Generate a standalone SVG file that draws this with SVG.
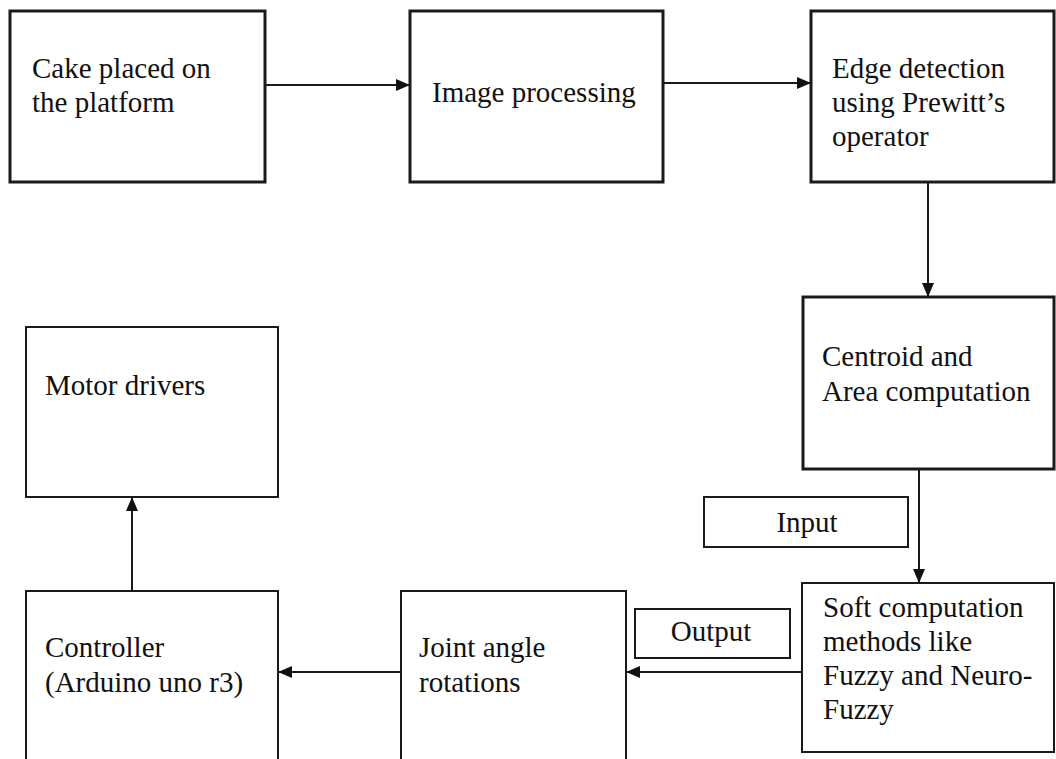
<svg xmlns="http://www.w3.org/2000/svg" width="1056" height="759" viewBox="0 0 1056 759">
  <style>
    .box { fill: #fff; stroke: #1a1a1a; stroke-width: 2; }
    .box.thick { stroke-width: 3; }
    .lbl { font-family: "Liberation Serif", "Times New Roman", serif; font-size: 29px; fill: #111; }
    .mid { text-anchor: middle; }
    .wire { fill: none; stroke: #1a1a1a; stroke-width: 2; marker-end: url(#head); }
  </style>
  <defs>
    <marker id="head" markerUnits="userSpaceOnUse" markerWidth="14" markerHeight="14" viewBox="0 0 14 14" refX="14" refY="7" orient="auto">
      <path d="M0,1 L14,7 L0,13 Z" fill="#111"/>
    </marker>
  </defs>
  <rect width="1056" height="759" fill="#fff"/>

  <g id="cake">
    <rect class="box thick" x="10" y="11" width="255" height="171"/>
    <text class="lbl" x="32" y="78">Cake placed on<tspan x="32" dy="34">the platform</tspan></text>
  </g>
  <g id="image-processing">
    <rect class="box thick" x="410" y="11" width="253" height="171"/>
    <text class="lbl" x="432" y="102">Image processing</text>
  </g>
  <g id="edge-detection">
    <rect class="box thick" x="811" y="11" width="243" height="171"/>
    <text class="lbl" x="832" y="78">Edge detection<tspan x="832" dy="34">using Prewitt’s</tspan><tspan x="832" dy="34">operator</tspan></text>
  </g>
  <g id="centroid">
    <rect class="box thick" x="803" y="297" width="251" height="172"/>
    <text class="lbl" x="822" y="366">Centroid and<tspan x="822" dy="35">Area computation</tspan></text>
  </g>
  <g id="input">
    <rect class="box" x="704" y="497" width="204" height="50"/>
    <text class="lbl mid" x="807" y="532">Input</text>
  </g>
  <g id="soft-computation">
    <rect class="box" x="802" y="583" width="252" height="169"/>
    <text class="lbl" x="823" y="617">Soft computation<tspan x="823" dy="34">methods like</tspan><tspan x="823" dy="34">Fuzzy and Neuro-</tspan><tspan x="823" dy="34">Fuzzy</tspan></text>
  </g>
  <g id="output">
    <rect class="box" x="635" y="609" width="155" height="49"/>
    <text class="lbl mid" x="711" y="641">Output</text>
  </g>
  <g id="joint-angle">
    <rect class="box" x="401" y="591" width="225" height="200"/>
    <text class="lbl" x="419" y="657">Joint angle<tspan x="419" dy="35">rotations</tspan></text>
  </g>
  <g id="controller">
    <rect class="box" x="26" y="591" width="252" height="200"/>
    <text class="lbl" x="45" y="657">Controller<tspan x="45" dy="35">(Arduino uno r3)</tspan></text>
  </g>
  <g id="motor-drivers">
    <rect class="box" x="26" y="327" width="252" height="170"/>
    <text class="lbl" x="45" y="395">Motor drivers</text>
  </g>

  <g id="connectors">
    <path class="wire" d="M265,85 H410"/>
    <path class="wire" d="M663,83 H811"/>
    <path class="wire" d="M928,182 V297"/>
    <path class="wire" d="M919,469 V583"/>
    <path class="wire" d="M802,672 H626"/>
    <path class="wire" d="M401,672 H278"/>
    <path class="wire" d="M132,591 V497"/>
  </g>
</svg>
